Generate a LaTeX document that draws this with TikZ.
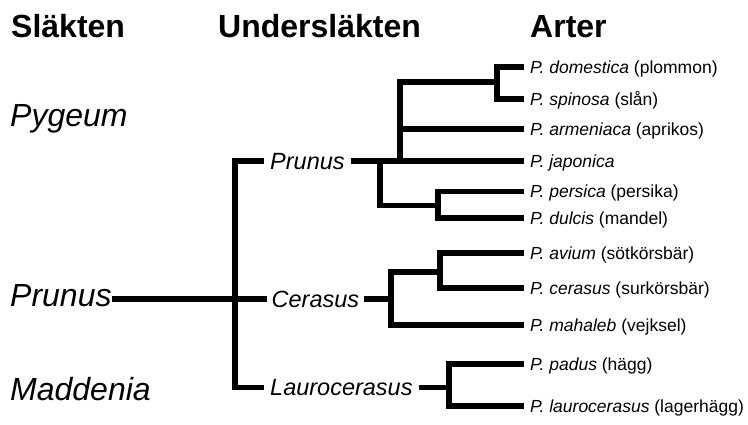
\documentclass[tikz,border=0pt]{standalone}
\usepackage{fontspec}
\setmainfont{Liberation Sans}
\begin{document}
\begin{tikzpicture}[x=1pt,y=-1pt,
  edge/.style={line width=5.5pt, line cap=butt, line join=miter},
  head/.style={anchor=base west, inner sep=0pt, font=\fontsize{32}{36}\selectfont\bfseries},
  genus/.style={inner sep=0pt, font=\fontsize{32}{36}\selectfont\itshape},
  subgenus/.style={anchor=west, inner ysep=0pt, inner xsep=6pt, text height=16pt, text depth=0pt,
    font=\fontsize{23.5}{28}\selectfont\itshape},
  species/.style={anchor=west, inner ysep=0pt, inner xsep=6pt, text height=12.5pt, text depth=0pt,
    font=\fontsize{17.5}{21}\selectfont},
]
\useasboundingbox (0,0) rectangle (748,424);

% column headings
\node[head] (hGenus)   at (11,37)  {Släkten};
\node[head] (hSub)     at (218,37) {Undersläkten};
\node[head] (hSpecies) at (530,37) {Arter};

% genera
\node[genus, anchor=base west] (gPygeum) at (10,126) {Pygeum};
\node[genus, anchor=west, text height=14pt, text depth=0pt] (gPrunus) at (10,299) {Prunus};
\node[genus, anchor=base west] (gMaddenia) at (10,400) {Maddenia};

% subgenera
\node[subgenus] (sgPrunus)  at (264,161)   {Prunus};
\node[subgenus, inner xsep=4.5pt] (sgCerasus) at (267,299) {Cerasus};
\node[subgenus] (sgLauro)   at (264,387.5) {Laurocerasus};

% species
\node[species] (domestica)    at (524,67)    {\textit{P. domestica} (plommon)};
\node[species] (spinosa)      at (524,99)    {\textit{P. spinosa} (slån)};
\node[species] (armeniaca)    at (524,129)   {\textit{P. armeniaca} (aprikos)};
\node[species] (japonica)     at (524,161)   {\textit{P. japonica}};
\node[species] (persica)      at (524,191.5) {\textit{P. persica} (persika)};
\node[species] (dulcis)       at (524,218)   {\textit{P. dulcis} (mandel)};
\node[species] (avium)        at (524,253)   {\textit{P. avium} (sötkörsbär)};
\node[species] (cerasus)      at (524,288)   {\textit{P. cerasus} (surkörsbär)};
\node[species] (mahaleb)      at (524,325)   {\textit{P. mahaleb} (vejksel)};
\node[species] (padus)        at (524,364)   {\textit{P. padus} (hägg)};
\node[species] (laurocerasus) at (524,406)   {\textit{P. laurocerasus} (lagerhägg)};

% branch points
\coordinate (root) at (235,299);
\coordinate (kUp)  at (400,161);
\coordinate (kArm) at (400,129);
\coordinate (jDS)  at (497,82);
\coordinate (kDown) at (380,161);
\coordinate (jPD)  at (438,205.5);
\coordinate (jCer) at (391,299);
\coordinate (jAC)  at (440,272);
\coordinate (jPL)  at (449,387.5);

% genus Prunus to its subgenera
\draw[edge] (sgPrunus.west) -| (root) |- (sgLauro.west);
\draw[edge] (gPrunus.east) -- (sgCerasus.west);

% subgenus Prunus
\draw[edge] (sgPrunus.east) -- (japonica.west);
\draw[edge] (kUp) |- (jDS);
\draw[edge] (domestica.west) -| (jDS) |- (spinosa.west);
\draw[edge] (kArm) -- (armeniaca.west);
\draw[edge] (kDown) |- (jPD);
\draw[edge] (persica.west) -| (jPD) |- (dulcis.west);

% subgenus Cerasus
\draw[edge] (sgCerasus.east) -- (jCer);
\draw[edge] (avium.west) -| (jAC) |- (cerasus.west);
\draw[edge] (jAC) -| (jCer) |- (mahaleb.west);

% subgenus Laurocerasus
\draw[edge] (sgLauro.east) -- (jPL);
\draw[edge] (padus.west) -| (jPL) |- (laurocerasus.west);
\end{tikzpicture}
\end{document}
